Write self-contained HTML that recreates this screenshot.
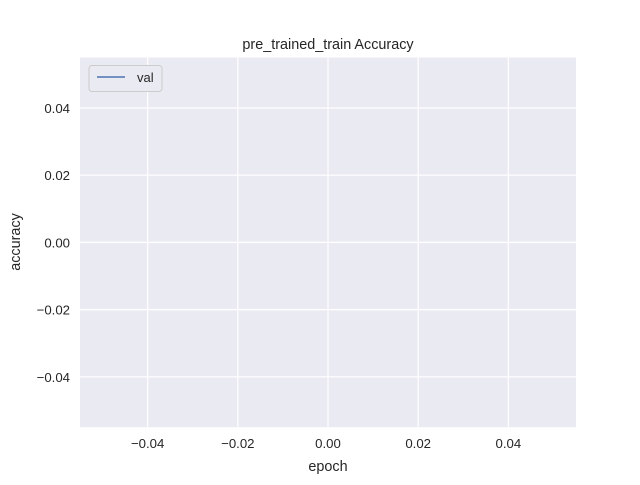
<!DOCTYPE html>
<html><head><meta charset="utf-8"><style>
body{margin:0;background:#fff;}
svg text{font-family:"Liberation Sans","DejaVu Sans",sans-serif;fill:#262626;}
</style></head><body>
<svg id="chart" width="640" height="480" xmlns="http://www.w3.org/2000/svg">
<rect x="80" y="57.6" width="496" height="369.6" fill="#eaeaf2"/>
<g id="grid"></g>
<g id="ticks"></g>
<g id="series"></g>
<text x="328" y="49" font-size="14.4" text-anchor="middle">pre_trained_train Accuracy</text>
<text x="328" y="471" font-size="14.4" text-anchor="middle">epoch</text>
<text x="20" y="242" font-size="14.4" text-anchor="middle" transform="rotate(-90 20 242)">accuracy</text>
<g>
<rect x="89" y="65.5" width="73" height="26" rx="3" fill="#eaeaf2" stroke="#cccccc" stroke-width="1"/>
<line x1="97" y1="77" x2="125" y2="77" stroke="#4c72b0" stroke-width="1.5"/>
<text x="137" y="82" font-size="13">val</text>
</g>
</svg>
<script>
const xTicks=[-0.04,-0.02,0.00,0.02,0.04];
const yTicks=[-0.04,-0.02,0.00,0.02,0.04];
const epochs=[];
const valAccuracy=[];
const xMin=-0.055,xMax=0.055,yMin=-0.055,yMax=0.055;
const L=80,R=576,T=57.6,B=427.2;
const xs=v=>L+(v-xMin)/(xMax-xMin)*(R-L);
const ys=v=>B-(v-yMin)/(yMax-yMin)*(B-T);
const NS="http://www.w3.org/2000/svg";
const grid=document.getElementById('grid'),ticks=document.getElementById('ticks'),series=document.getElementById('series');
const fmt=v=>(v<0?'\u2212':'')+Math.abs(v).toFixed(2);
xTicks.forEach(v=>{
 const l=document.createElementNS(NS,'line');
 l.setAttribute('x1',xs(v));l.setAttribute('x2',xs(v));l.setAttribute('y1',T);l.setAttribute('y2',B);
 l.setAttribute('stroke','#fff');l.setAttribute('stroke-width','1.2');
 
 
 grid.appendChild(l);
 const t=document.createElementNS(NS,'text');
 t.setAttribute('x',xs(v));t.setAttribute('y',448);t.setAttribute('font-size','13.2');t.setAttribute('text-anchor','middle');
 t.textContent=fmt(v);
 
 
 ticks.appendChild(t);
});
yTicks.forEach(v=>{
 const l=document.createElementNS(NS,'line');
 l.setAttribute('x1',L);l.setAttribute('x2',R);l.setAttribute('y1',ys(v));l.setAttribute('y2',ys(v));
 l.setAttribute('stroke','#fff');l.setAttribute('stroke-width','1.2');
 
 
 grid.appendChild(l);
 const t=document.createElementNS(NS,'text');
 t.setAttribute('x',70);t.setAttribute('y',ys(v)+5);t.setAttribute('font-size','13.2');t.setAttribute('text-anchor','end');
 t.textContent=fmt(v);
 
 
 ticks.appendChild(t);
});
if(valAccuracy.length){
 const p=document.createElementNS(NS,'polyline');
 p.setAttribute('points',valAccuracy.map((v,i)=>xs(epochs[i])+','+ys(v)).join(' '));
 p.setAttribute('fill','none');p.setAttribute('stroke','#4c72b0');p.setAttribute('stroke-width','1.5');
 
 
 series.appendChild(p);
}
</script>
</body></html>
